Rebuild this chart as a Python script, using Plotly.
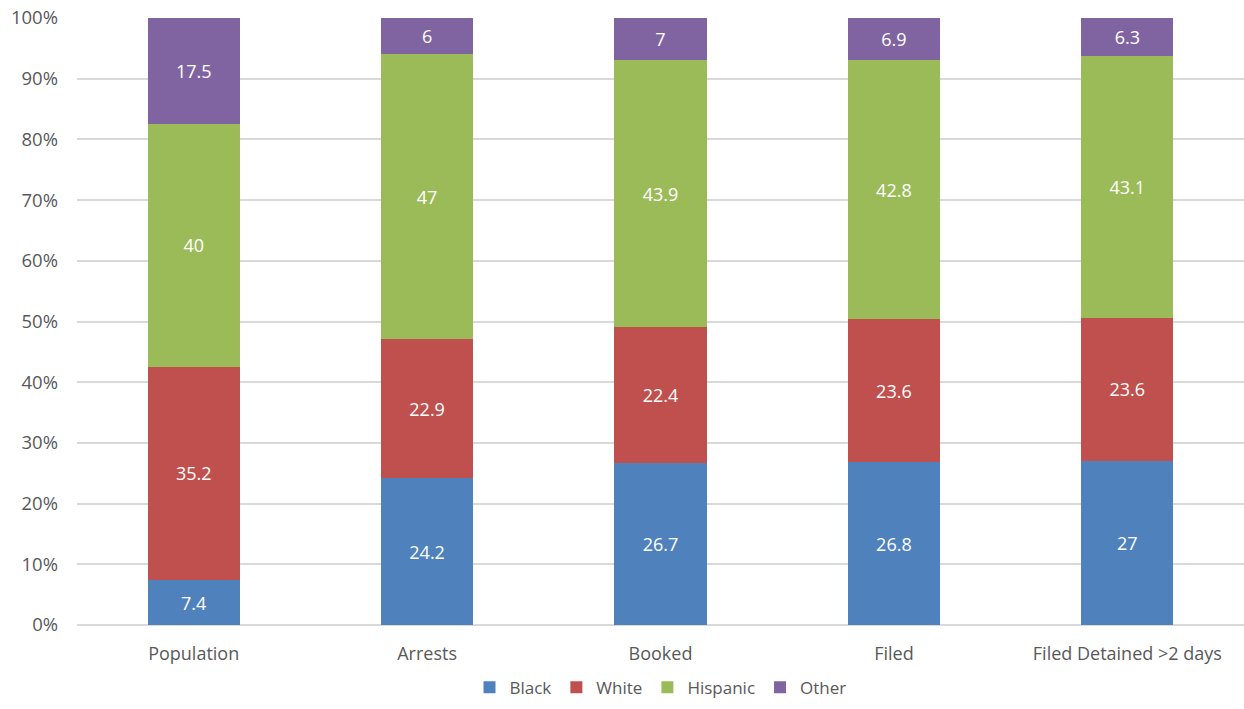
import plotly.graph_objects as go

categories = ["Population", "Arrests", "Booked", "Filed", "Filed Detained >2 days"]
black = [7.4, 24.2, 26.7, 26.8, 27]
white = [35.2, 22.9, 22.4, 23.6, 23.6]
hispanic = [40, 47, 43.9, 42.8, 43.1]
other = [17.5, 6, 7, 6.9, 6.3]

series = [
    ("Black", black, "#4F81BD"),
    ("White", white, "#C0504D"),
    ("Hispanic", hispanic, "#9BBB59"),
    ("Other", other, "#8064A2"),
]

fig = go.Figure()
for name, vals, color in series:
    fig.add_trace(go.Bar(
        name=name,
        x=categories,
        y=vals,
        marker=dict(color=color, line=dict(width=0)),
        text=[f"{v:g}" for v in vals],
        textposition="inside",
        insidetextanchor="middle",
        textangle=0,
        textfont=dict(color="white", size=18, family="Open Sans"),
        constraintext="none",
    ))

fig.update_layout(
    barmode="stack",
    barnorm="percent",
    bargap=0.605,
    width=1244,
    height=709,
    margin=dict(l=77, r=0, t=18, b=84, autoexpand=False),
    plot_bgcolor="white",
    paper_bgcolor="white",
    font=dict(family="Open Sans", size=18, color="#595959"),
    legend=dict(
        orientation="h",
        x=0.5,
        xanchor="center",
        y=-0.133,
        yanchor="bottom",
        font=dict(size=17, color="#595959"),
        itemwidth=30,
        tracegroupgap=0,
        traceorder="normal",
    ),
    xaxis=dict(
        showline=False,
        ticks="",
        ticklabelstandoff=16,
        tickfont=dict(size=18, color="#595959"),
    ),
    yaxis=dict(
        range=[0, 100],
        dtick=10,
        ticksuffix="%",
        showgrid=True,
        gridcolor="#D9D9D9",
        gridwidth=1.5,
        zeroline=True,
        zerolinecolor="#D9D9D9",
        zerolinewidth=1.5,
        ticks="",
        ticklabelstandoff=18,
        tickfont=dict(size=18.5, color="#595959"),
    ),
)

fig.write_html("out.html")
